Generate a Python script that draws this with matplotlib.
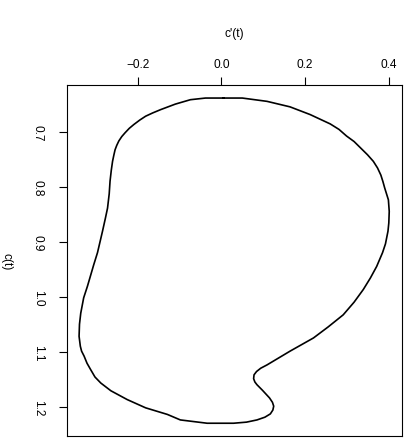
import numpy as np
import matplotlib
matplotlib.use("Agg")
import matplotlib.pyplot as plt

# curve: c'(t) on x, c(t) on y
dc = [0.005, 0.050, 0.109, 0.164, 0.212, 0.260, 0.281, 0.299, 0.317, 0.333, 0.349, 0.363, 0.373, 0.381,
      0.386, 0.390, 0.399, 0.401, 0.400, 0.398, 0.392, 0.385, 0.371, 0.356, 0.339,
      0.317, 0.291, 0.255, 0.220, 0.164, 0.109, 0.094, 0.084, 0.078, 0.077, 0.080, 0.085, 0.098,
      0.115, 0.122, 0.125, 0.123, 0.117, 0.104, 0.085, 0.060, 0.029, -0.034, -0.098, -0.129, -0.181, -0.225,
      -0.264, -0.288, -0.302, -0.312, -0.321, -0.328, -0.334, -0.337, -0.340, -0.339, -0.336, -0.329, -0.320,
      -0.305, -0.296, -0.284, -0.277, -0.272, -0.268, -0.266, -0.263, -0.260, -0.257, -0.254,
      -0.250, -0.245, -0.238, -0.230, -0.220, -0.209, -0.195, -0.181, -0.164, -0.145, -0.110, -0.074, -0.038, 0.005]
c = [0.638, 0.638, 0.644, 0.654, 0.668, 0.685, 0.695, 0.707, 0.717, 0.729, 0.741, 0.753, 0.765, 0.778,
     0.790, 0.801, 0.823, 0.844, 0.865, 0.880, 0.903, 0.919, 0.944, 0.965, 0.986,
     1.009, 1.032, 1.054, 1.074, 1.098, 1.123, 1.129, 1.135, 1.141, 1.148, 1.154, 1.159, 1.169,
     1.183, 1.191, 1.198, 1.205, 1.212, 1.218, 1.223, 1.227, 1.229, 1.229, 1.223, 1.213, 1.201, 1.186,
     1.170, 1.156, 1.145, 1.132, 1.120, 1.107, 1.098, 1.089, 1.071, 1.049, 1.029, 1.001, 0.980,
     0.941, 0.919, 0.880, 0.856, 0.838, 0.812, 0.789, 0.769, 0.753, 0.742, 0.732,
     0.724, 0.716, 0.708, 0.701, 0.693, 0.686, 0.678, 0.671, 0.665, 0.659, 0.649, 0.641, 0.638, 0.638]

xticks = [-0.2, 0.0, 0.2, 0.4]
yticks = [0.7, 0.8, 0.9, 1.0, 1.1, 1.2]

plt.rcParams['font.family'] = ['Liberation Sans', 'DejaVu Sans']
plt.rcParams['font.size'] = 8.6

fig = plt.figure(figsize=(4.09, 4.39), dpi=100)
ax = fig.add_axes([0.163, 0.004, 0.819, 0.800])

ax.plot(dc, c, color="black", linewidth=1.2, solid_joinstyle="round")

# R style 4% padding around the data
ax.margins(0.04)
ax.invert_yaxis()

ax.xaxis.tick_top()
ax.xaxis.set_label_position("top")
ax.set_xticks(xticks)
ax.set_xticklabels(["\u22120.2", "0.0", "0.2", "0.4"])
ax.set_yticks(yticks)
ax.set_yticklabels(["0.7", "0.8", "0.9", "1.0", "1.1", "1.2"], rotation=-90, va="center")

ax.tick_params(axis="x", direction="out", length=5.5, width=0.8, pad=5.5)
ax.tick_params(axis="y", direction="out", length=5.5, width=0.8, pad=11)
ax.set_xlabel("c'(t)", labelpad=15.5)
ax.set_ylabel("c(t)", rotation=-90, labelpad=18, va="center")
for s in ax.spines.values():
    s.set_linewidth(0.8)

fig.savefig("out.png", dpi=100)
